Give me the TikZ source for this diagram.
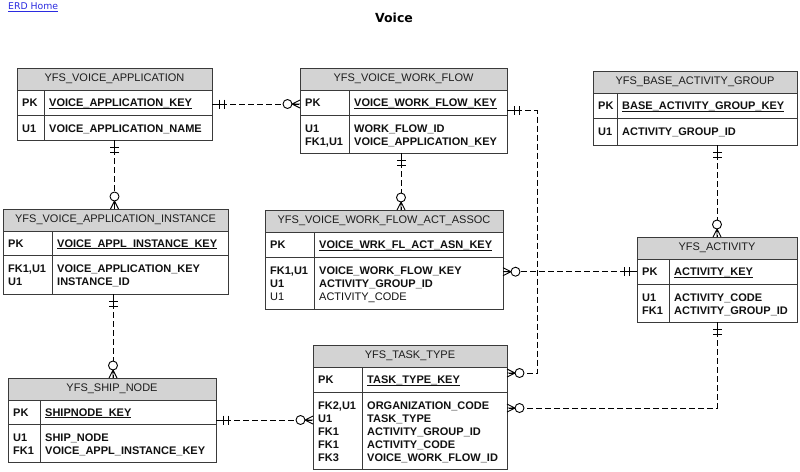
\documentclass[tikz,border=0pt]{standalone}
\usepackage{fontspec}
\setmainfont{Liberation Sans}
\newfontfamily\verdfont{DejaVu Sans}
\usetikzlibrary{calc}
\definecolor{hdrgray}{HTML}{D3D3D3}
\definecolor{boxline}{HTML}{3A3A3A}
\definecolor{linkblue}{HTML}{2B2BE0}
\definecolor{txt}{HTML}{111111}
\newcommand\ulx[1]{\setbox0\hbox{#1}\rlap{\rule[-2pt]{\wd0}{0.8pt}}\box0}
\tikzset{
  tbl/.style={draw=boxline, line width=1pt, inner sep=0pt, outer sep=0pt, anchor=north west},
  sepline/.style={draw=boxline, line width=1pt},
  hdr/.style={font=\fontsize{11}{13}\selectfont, text=txt!95, inner sep=0pt},
  fld/.style={font=\fontsize{11}{13}\selectfont\bfseries, text=txt, inner sep=0pt, anchor=base west},
  conn/.style={draw=black, line width=0.9pt, dash pattern=on 6pt off 3pt},
  mk/.style={draw=black, line width=0.9pt, solid},
}
% name, x1, x2, top, head, pk, bottom, divider, title
\newcommand\erdframe[9]{%
  \fill[hdrgray] (#2,#4) rectangle (#3,#5);
  \node[tbl, minimum width={(#3-#2)*1pt}, minimum height={(#7-#4)*1pt}] (#1) at (#2,#4) {};
  \draw[sepline] (#2,#5) -- (#3,#5) (#2,#6) -- (#3,#6) (#8,#5) -- (#8,#7);
  \node[hdr] (#1-title) at ({(#2+#3)/2},{(#4+#5)/2}) {#9};
}
% name, x1, divider, head, pk, field
\newcommand\erdpk[6]{%
  \node[fld] (#1-pkk) at (#2+5, {(#4+#5)/2+4}) {PK};
  \node[fld] (#1-pkf) at (#3+5, {(#4+#5)/2+4}) {\ulx{#6}};
}
% name, x1, divider, pk, list key/field
\newcommand\erdbody[5]{%
  \foreach \k/\f [count=\i] in {#5} {
    \node[fld] (#1-k\i) at (#2+5, #4+13*\i+4) {\k};
    \node[fld] (#1-f\i) at (#3+5, #4+13*\i+4) {\f};
  }
}
\newcommand\crowmark[2]{%
  \begin{scope}[shift={(#1)}, rotate=#2]
    \draw[mk] (0,4) -- (8,0) -- (0,-4) (0,0) -- (8,0);
    \draw[mk, fill=white] (12.5,0) circle (4.5);
  \end{scope}}
\newcommand\onemark[2]{%
  \begin{scope}[shift={(#1)}, rotate=#2]
    \draw[mk] (0,0) -- (13,0) (7.5,-4.5) -- (7.5,4.5) (12.5,-4.5) -- (12.5,4.5);
  \end{scope}}
\begin{document}
\begin{tikzpicture}[x=1pt, y=-1pt]
  \useasboundingbox (0,0) rectangle (800,471);
  \fill[white] (0,0) rectangle (800,471);

  \node[font=\verdfont\fontsize{9.3}{11}\selectfont, text=linkblue, anchor=west, inner sep=0pt] (home) at (8,7.5) {\ulx{ERD Home}};
  \node[font=\verdfont\bfseries\fontsize{12.5}{15}\selectfont, inner sep=0pt] (title) at (394,18) {Voice};

  % tables
  \erdframe{va}{17}{212}{68}{90}{115}{140}{44}{YFS\_VOICE\_APPLICATION}
  \erdpk{va}{17}{44}{90}{115}{VOICE\_APPLICATION\_KEY}
  \erdbody{va}{17}{44}{115}{U1/VOICE\_APPLICATION\_NAME}

  \erdframe{vwf}{300}{507}{68}{90}{115}{153}{349}{YFS\_VOICE\_WORK\_FLOW}
  \erdpk{vwf}{300}{349}{90}{115}{VOICE\_WORK\_FLOW\_KEY}
  \erdbody{vwf}{300}{349}{115}{U1/WORK\_FLOW\_ID, {FK1,U1}/VOICE\_APPLICATION\_KEY}

  \erdframe{bag}{593}{797}{71}{93}{118}{145}{617}{YFS\_BASE\_ACTIVITY\_GROUP}
  \erdpk{bag}{593}{617}{93}{118}{BASE\_ACTIVITY\_GROUP\_KEY}
  \erdbody{bag}{593}{617}{118}{U1/ACTIVITY\_GROUP\_ID}

  \erdframe{vai}{3}{228}{209}{231}{255}{294}{52}{YFS\_VOICE\_APPLICATION\_INSTANCE}
  \erdpk{vai}{3}{52}{231}{255}{VOICE\_APPL\_INSTANCE\_KEY}
  \erdbody{vai}{3}{52}{255}{{FK1,U1}/VOICE\_APPLICATION\_KEY, U1/INSTANCE\_ID}

  \erdframe{assoc}{265}{503}{210}{232}{257}{309}{314}{YFS\_VOICE\_WORK\_FLOW\_ACT\_ASSOC}
  \erdpk{assoc}{265}{314}{232}{257}{VOICE\_WRK\_FL\_ACT\_ASN\_KEY}
  \erdbody{assoc}{265}{314}{257}{{FK1,U1}/VOICE\_WORK\_FLOW\_KEY, U1/ACTIVITY\_GROUP\_ID, {\mdseries U1}/{\mdseries ACTIVITY\_CODE}}

  \erdframe{act}{637}{797}{237}{259}{284}{322}{669}{YFS\_ACTIVITY}
  \erdpk{act}{637}{669}{259}{284}{ACTIVITY\_KEY}
  \erdbody{act}{637}{669}{284}{U1/ACTIVITY\_CODE, FK1/ACTIVITY\_GROUP\_ID}

  \erdframe{ship}{8}{216}{378}{400}{424}{462}{40}{YFS\_SHIP\_NODE}
  \erdpk{ship}{8}{40}{400}{424}{SHIPNODE\_KEY}
  \erdbody{ship}{8}{40}{424}{U1/SHIP\_NODE, FK1/VOICE\_APPL\_INSTANCE\_KEY}

  \erdframe{task}{313}{507}{345}{367}{392}{469}{362}{YFS\_TASK\_TYPE}
  \erdpk{task}{313}{362}{367}{392}{TASK\_TYPE\_KEY}
  \erdbody{task}{313}{362}{392}{{FK2,U1}/ORGANIZATION\_CODE, U1/TASK\_TYPE, FK1/ACTIVITY\_GROUP\_ID, FK1/ACTIVITY\_CODE, FK3/VOICE\_WORK\_FLOW\_ID}

  % connector end points
  \coordinate (c1s) at (va.east);
  \coordinate (c1e) at (va.east -| vwf.west);
  \coordinate (c2s) at (va.south);
  \coordinate (c2e) at (va.south |- vai.north);
  \coordinate (c3s) at ([xshift=-2.5pt]vai.south);
  \coordinate (c3e) at (c3s |- ship.north);
  \coordinate (c4s) at (ship.east);
  \coordinate (c4e) at (ship.east -| task.west);
  \coordinate (c5s) at ([xshift=-2.5pt]vwf.south);
  \coordinate (c5e) at (c5s |- assoc.north);
  \coordinate (c6s) at (vwf.east);
  \coordinate (c6m) at ($(vwf.east)+(30,0)$);
  \coordinate (c6e) at ([yshift=-28pt]task.north east);
  \coordinate (c7s) at (assoc.east |- act-pkk);
  \coordinate (c7e) at (act.west |- act-pkk);
  \coordinate (c8s) at (act.north |- bag.south);
  \coordinate (c8e) at (act.north);
  \coordinate (c9s) at (act.south);
  \coordinate (c9m) at ($(act.south |- task-k1)+(0,2)$);
  \coordinate (c9e) at (task.east |- c9m);

  % connectors
  \draw[conn] (va.east) -- (va.east -| vwf.west);
  \draw[conn] (va.south) -- (va.south |- vai.north);
  \draw[conn] (c3s) -- (c3e);
  \draw[conn] (ship.east) -- (ship.east -| task.west);
  \draw[conn] (c5s) -- (c5e);
  \draw[conn] (vwf.east) -- (c6m) |- (c6e);
  \draw[conn] (c7s) -- (c7e);
  \draw[conn] (c8s) -- (act.north);
  \draw[conn] (act.south) -- (c9m) -- (c9e);

  % end marks
  \onemark{c1s}{0}    \crowmark{c1e}{180}
  \onemark{c2s}{270}  \crowmark{c2e}{90}
  \onemark{c3s}{270}  \crowmark{c3e}{90}
  \onemark{c4s}{0}    \crowmark{c4e}{180}
  \onemark{c5s}{270}  \crowmark{c5e}{90}
  \onemark{c6s}{0}    \crowmark{c6e}{0}
  \crowmark{c7s}{0}   \onemark{c7e}{180}
  \onemark{c8s}{270}  \crowmark{c8e}{90}
  \onemark{c9s}{270}  \crowmark{c9e}{0}
\end{tikzpicture}
\end{document}
